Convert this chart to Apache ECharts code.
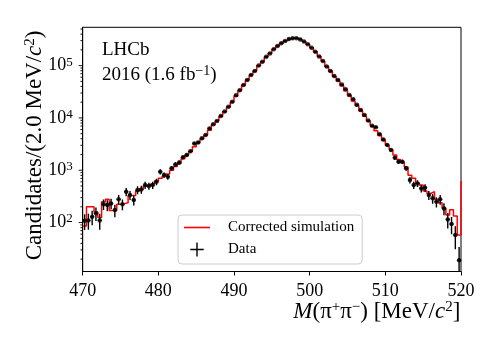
<!DOCTYPE html>
<html><head><meta charset="utf-8">
<script src="https://cdn.jsdelivr.net/npm/echarts@6/dist/echarts.min.js"></script>
<style>html,body{margin:0;padding:0;background:#fff}#c{width:498px;height:349px}</style>
</head><body><div id="c"></div>
<script>
// Histogram: 0.5 MeV bins from 470 to 520
const binStart = 470;
const binWidth = 0.5;
const dataCounts = [108,110,129,150,110,225,216,232,173,278,223,388,335,270,420,430,520,500,520,600,
  935,810,755,1090,1290,1400,1770,1950,2300,3240,3400,4070,4700,6300,7560,8700,10900,13200,16300,20400,
  27000,34000,42400,53000,66000,79000,100000,118000,148000,170000,205000,238000,268000,296000,324000,334000,334000,316000,288000,255000,
  219000,184000,150000,122000,96000,79000,63000,53000,43600,35300,27300,22700,17800,14200,11400,8900,7050,6650,4900,3880,
  3040,2440,1740,1450,1450,1090,650,520,560,450,465,335,290,250,278,186,115,94,58,19];
const dataErrors = [36,37,40,43,37,52,51,53,46,58,52,69,64,58,72,73,80,78,80,86,
  107,100,96,116,126,131,147,155,168,199,204,223,240,278,304,326,365,402,447,500,
  575,645,721,806,899,984,1107,1202,1346,1443,1585,1707,1812,1904,1992,2023,2023,1967,1878,1767,
  1638,1501,1356,1222,1084,984,878,806,731,658,578,527,467,417,374,330,294,285,245,218,
  193,173,146,133,133,116,89,80,83,74,75,64,60,55,58,48,38,34,27,15];
// simulation per bin (last entry = overflow bin just beyond 520)
const simCounts = [86,200,200,160,125,250,280,170,170,225,230,240,330,330,400,440,500,540,560,620,
  700,770,850,1000,1180,1350,1650,1950,2300,2800,3300,3950,4700,5800,7300,8800,10700,13000,16000,20000,
  26000,33000,42000,53000,66000,80000,99000,119000,146000,172000,205000,238000,268000,298000,322000,335000,333000,317000,290000,256000,
  220000,183000,150000,121000,96000,77000,62000,51000,41000,33000,26500,21000,17000,13500,10800,8600,7000,5700,4600,3700,
  3000,2500,1950,1600,1400,1150,800,700,570,520,400,360,390,280,240,190,140,175,133,58,600];
const xTicks = [470, 480, 490, 500, 510, 520];
const yMajorTicks = [100, 1000, 10000, 100000];
const yMinorTicks = [20,30,40,50,60,70,80,90,200,300,400,500,600,700,800,900,
  2000,3000,4000,5000,6000,7000,8000,9000,20000,30000,40000,50000,60000,70000,80000,90000,
  200000,300000,400000,500000];

const FONT = '"Liberation Serif", "Times New Roman", serif';
const dataPts = dataCounts.map((v, i) => [binStart + binWidth * (i + 0.5), v, dataErrors[i]]);
const simPts = simCounts.map((v, i) => [binStart + binWidth * i, v]);
simPts.push([binStart + binWidth * simCounts.length, simCounts[simCounts.length - 1]]);
const tickPts = yMajorTicks.map(v => [470, v, 1]).concat(yMinorTicks.map(v => [470, v, 0]));

const chart = echarts.init(document.getElementById('c'), null, {renderer: 'canvas'});
const NS = 23;
const supTick = {fontSize: 13, fontFamily: FONT, verticalAlign: 'top', lineHeight: 5};
const supName = {fontSize: 15, fontFamily: FONT, verticalAlign: 'top', lineHeight: 7};
const ital = {fontStyle: 'italic', fontFamily: FONT, fontSize: NS, lineHeight: 25};
chart.setOption({
  animation: false,
  backgroundColor: '#fff',
  grid: {left: 82.7, right: 37, top: 27.3, bottom: 77.5, containLabel: false, outerBoundsMode: 'none',
    show: true, borderColor: '#000', borderWidth: 1, backgroundColor: 'transparent'},
  xAxis: {
    type: 'value', min: 470, max: 520, interval: 10,
    axisLine: {show: true, onZero: false, lineStyle: {color: '#000', width: 1}},
    axisTick: {show: true, inside: false, length: 4, lineStyle: {color: '#000'}},
    splitLine: {show: false},
    axisLabel: {margin: 11, color: '#000', fontFamily: FONT, fontSize: 18},
    name: '{i|M}(π{sup|+}π{sup|−}) [MeV/{i|c}{sup|2}]',
    nameLocation: 'middle', nameGap: 28, nameMoveOverlap: false,
    nameTextStyle: {color: '#000', fontFamily: FONT, fontSize: NS, lineHeight: 25, padding: [0, 0, 0, 210],
      rich: {i: ital, sup: supName}}
  },
  yAxis: {
    type: 'log', logBase: 10, min: 11.6, max: 540000,
    axisLine: {show: true, lineStyle: {color: '#000', width: 1}},
    axisTick: {show: false},
    minorTick: {show: false},
    splitLine: {show: false},
    axisLabel: {margin: 10, color: '#000', fontFamily: FONT, fontSize: 18, lineHeight: 20, showMinLabel: false, showMaxLabel: false,
      formatter: v => '10{s|' + Math.round(Math.log10(v)) + '}',
      rich: {s: supTick}},
    name: 'Candidates/(2.0 MeV/{i|c}{sup|2})',
    nameLocation: 'middle', nameRotate: 90, nameGap: 35, nameMoveOverlap: false,
    nameTextStyle: {color: '#000', fontFamily: FONT, fontSize: NS, lineHeight: 25, padding: [0, 0, 0, 8],
      rich: {i: ital, sup: supName}}
  },
  legend: {
    left: 178, top: 215, orient: 'vertical',
    backgroundColor: '#fff', borderColor: '#ccc', borderWidth: 1, borderRadius: 4,
    padding: [5, 8, 7, 6], itemWidth: 26, itemHeight: 14, itemGap: 7,
    textStyle: {fontFamily: FONT, fontSize: 15, color: '#000', padding: [0, 0, 0, 13]},
    data: [
      {name: 'Corrected simulation', icon: 'path://M0,6.2h26v1.6h-26z', itemStyle: {color: '#ff0000'}},
      {name: 'Data', icon: 'path://M6,0h1.4v14h-1.4z M0,6.3h13.4v1.4h-13.4z', itemStyle: {color: '#000'}}
    ]
  },
  graphic: [
    {type: 'text', left: 102, top: 41, style: {text: 'LHCb', font: '19px ' + FONT, fill: '#000'}},
    {type: 'text', left: 102, top: 64, style: {text: '2016 (1.6 fb{s|−1})', font: '19px ' + FONT, fill: '#000', lineHeight: 22,
      rich: {s: {fontSize: 14, fontFamily: FONT, verticalAlign: 'top', lineHeight: 6}}}}
  ],
  series: [
    {
      name: 'Corrected simulation', type: 'line', step: 'end', data: simPts,
      showSymbol: false, symbol: 'none', clip: true, z: 2,
      lineStyle: {color: '#ff0000', width: 1.5}, itemStyle: {color: '#ff0000'}
    },
    {
      name: 'Data', type: 'custom', data: dataPts, z: 3, clip: true,
      renderItem: (params, api) => {
        const cs = params.coordSys;
        const x = api.value(0), y = api.value(1), e = api.value(2);
        const hi = api.coord([x, y + e]);
        const lo = api.coord([x, y - e]);
        const l = api.coord([x - binWidth / 2, y]);
        const r = api.coord([x + binWidth / 2, y]);
        const top = Math.max(cs.y, hi[1]);
        const bot = Math.min(cs.y + cs.height, lo[1]);
        return {type: 'group', children: [
          {type: 'line', shape: {x1: hi[0], y1: top, x2: lo[0], y2: bot}, style: {stroke: '#000', lineWidth: 1.4}},
          {type: 'line', shape: {x1: l[0], y1: l[1], x2: r[0], y2: r[1]}, style: {stroke: '#000', lineWidth: 1.4}}
        ]};
      },
      itemStyle: {color: '#000'}
    },
    {
      name: 'Data', type: 'scatter', data: dataPts.map(p => [p[0], p[1]]), symbol: 'circle', symbolSize: 4.5, z: 4,
      itemStyle: {color: '#000'}
    },
    {
      name: 'yticks', type: 'custom', data: tickPts, z: 5, silent: true, clip: false,
      renderItem: (params, api) => {
        const p = api.coord([api.value(0), api.value(1)]);
        const len = api.value(2) === 1 ? 4 : 2.3;
        return {type: 'line', shape: {x1: p[0] - len, y1: p[1], x2: p[0], y2: p[1]}, style: {stroke: '#000', lineWidth: 0.9}};
      }
    }
  ]
});
</script></body></html>
